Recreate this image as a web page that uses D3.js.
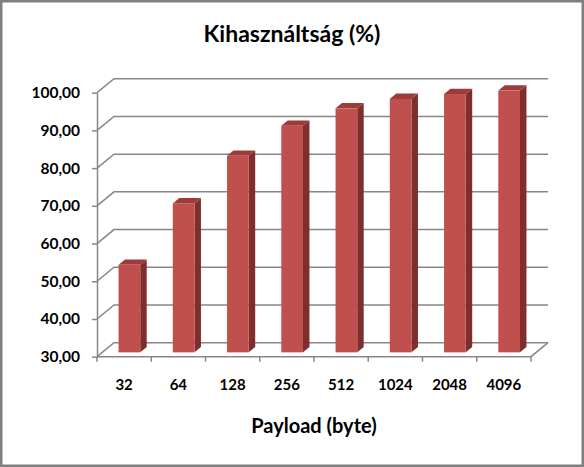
<!DOCTYPE html>
<html>
<head>
<meta charset="utf-8">
<script src="https://cdn.jsdelivr.net/npm/d3@7"></script>
<style>
  html, body { margin: 0; padding: 0; background: #fff; }
  svg { display: block; }
  text { font-family: Lato, "Open Sans", sans-serif; font-weight: bold; fill: #000; }
</style>
</head>
<body>
<div id="chart"></div>
<script>
const categories = ["32", "64", "128", "256", "512", "1024", "2048", "4096"];
const values = [53.2, 69.5, 82.1, 90.1, 94.7, 97.2, 98.5, 99.4];
const yTicks = [30, 40, 50, 60, 70, 80, 90, 100];
const title = "Kihasználtság (%)";
const xTitle = "Payload (byte)";

const width = 584, height = 467;
// depth vector of the 3D box (front -> back)
const depth = { dx: 17, dy: -14 };
// bars sit between these fractions of the depth
const barDepth = [0.31, 0.69];

const svg = d3.select("#chart")
  .append("svg")
  .attr("width", width)
  .attr("height", height);

svg.append("rect")
  .attr("x", 1.25).attr("y", 1.25)
  .attr("width", width - 2.5).attr("height", height - 2.5)
  .attr("fill", "#fff")
  .attr("stroke", "#7f7f7f")
  .attr("stroke-width", 2.5);

const x = d3.scaleBand().domain(categories).range([97, 531]).paddingInner(0).paddingOuter(0);
const y = d3.scaleLinear().domain([30, 100]).range([356.7, 92.7]);

const grid = "#878787";
const x0 = x.range()[0], x1 = x.range()[1];

// back wall gridlines + left wall diagonals
const gridG = svg.append("g");
yTicks.forEach(t => {
  const yf = y(t);
  gridG.append("path")
    .attr("d", `M${x0},${yf} L${x0 + depth.dx},${yf + depth.dy} L${x1 + depth.dx},${yf + depth.dy}`)
    .attr("fill", "none")
    .attr("stroke", grid)
    .attr("stroke-width", 1.5);
});

// floor edges
const yf0 = y(30);
svg.append("path")
  .attr("d", `M${x0},${yf0} L${x1},${yf0} L${x1 + depth.dx},${yf0 + depth.dy}`)
  .attr("fill", "none")
  .attr("stroke", grid)
  .attr("stroke-width", 1.5);

// category boundary ticks
svg.append("g").selectAll("line")
  .data(d3.range(categories.length + 1))
  .join("line")
  .attr("x1", i => x0 + i * x.step())
  .attr("x2", i => x0 + i * x.step())
  .attr("y1", yf0)
  .attr("y2", yf0 + 5)
  .attr("stroke", grid)
  .attr("stroke-width", 1.5);

// y axis
const fmt = d3.formatLocale({ decimal: ",", thousands: " ", grouping: [3], currency: ["", ""] }).format(".2f");
const yAxis = svg.append("g")
  .attr("transform", `translate(${x0},0)`)
  .call(d3.axisLeft(y).tickValues(yTicks).tickFormat(fmt).tickSize(5).tickSizeOuter(0).tickPadding(12));
yAxis.select(".domain").attr("stroke", grid).attr("stroke-width", 1.5);
yAxis.selectAll(".tick line").attr("stroke", grid).attr("stroke-width", 1.5);
yAxis.selectAll("text").attr("font-size", 15.5).attr("font-family", "Lato, sans-serif").attr("font-weight", "bold").attr("fill", "#000");

// x axis labels
const xAxis = svg.append("g")
  .attr("transform", `translate(0,${yf0})`)
  .call(d3.axisBottom(x).tickSize(0).tickPadding(23));
xAxis.select(".domain").remove();
xAxis.selectAll("text").attr("font-size", 15).attr("font-family", "Lato, sans-serif").attr("font-weight", "bold").attr("fill", "#000");

// bars
const bw = x.bandwidth() * 0.4;
const fa = barDepth[0], fb = barDepth[1];
const ddx = (fb - fa) * depth.dx, ddy = (fb - fa) * depth.dy;
const bars = svg.append("g").selectAll("g")
  .data(categories.map((c, i) => ({ c, v: values[i] })))
  .join("g");

function frontRect(d) {
  const cx = x(d.c) + x.bandwidth() / 2 + fa * depth.dx;
  const left = cx - bw / 2, right = cx + bw / 2;
  const top = y(d.v) + fa * depth.dy, bottom = y(30) + fa * depth.dy;
  return { left, right, top, bottom };
}

bars.append("path")
  .attr("fill", "#7e2e2c")
  .attr("d", d => {
    const r = frontRect(d);
    return `M${r.right},${r.bottom} L${r.right},${r.top} L${r.right + ddx},${r.top + ddy} L${r.right + ddx},${r.bottom + ddy} Z`;
  });
bars.append("path")
  .attr("fill", "#9e3b38")
  .attr("d", d => {
    const r = frontRect(d);
    return `M${r.left},${r.top} L${r.right},${r.top} L${r.right + ddx},${r.top + ddy} L${r.left + ddx},${r.top + ddy} Z`;
  });
bars.append("rect")
  .attr("fill", "#c0504d")
  .attr("x", d => frontRect(d).left)
  .attr("y", d => frontRect(d).top)
  .attr("width", bw)
  .attr("height", d => frontRect(d).bottom - frontRect(d).top);

// titles
svg.append("text")
  .attr("x", 292).attr("y", 42)
  .attr("text-anchor", "middle")
  .attr("font-size", 23)
  .text(title);

svg.append("text")
  .attr("x", 314).attr("y", 433)
  .attr("text-anchor", "middle")
  .attr("font-size", 20)
  .text(xTitle);
</script>
</body>
</html>
